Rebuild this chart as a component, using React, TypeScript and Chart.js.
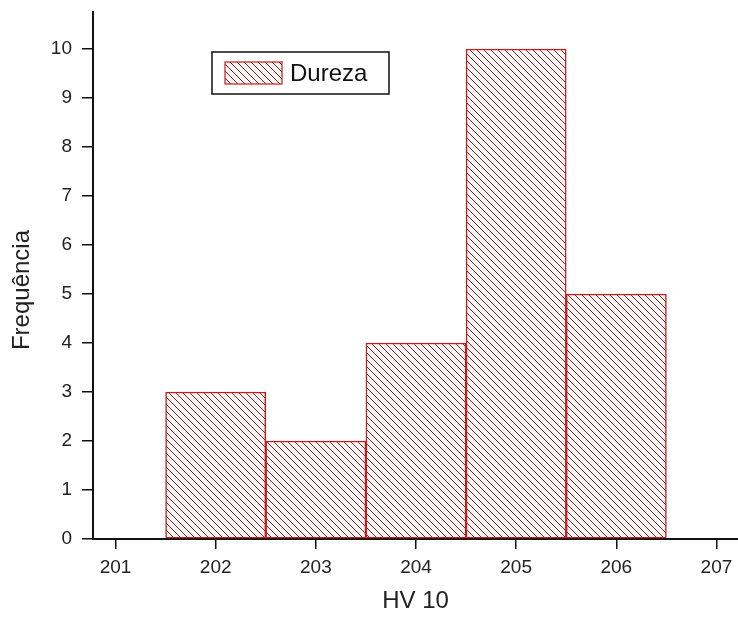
import React, { useEffect, useRef } from "react";
import { Chart, registerables } from "chart.js";

Chart.register(...registerables);

const categories = [202, 203, 204, 205, 206];
const frequencies = [3, 2, 4, 10, 5];
const xTicks = [201, 202, 203, 204, 205, 206, 207];
const yTicks = [0, 1, 2, 3, 4, 5, 6, 7, 8, 9, 10];
const seriesLabel = "Dureza";
const xTitle = "HV 10";
const yTitle = "Frequência";

const FONT = '"Liberation Sans", Arial, sans-serif';

function makeHatch(): CanvasPattern | string {
  const s = 7;
  const c = document.createElement("canvas");
  c.width = s;
  c.height = s;
  const g = c.getContext("2d");
  if (!g) return "#fff";
  g.fillStyle = "#fff6f6";
  g.fillRect(0, 0, s, s);
  g.strokeStyle = "#6e2a2a";
  g.lineWidth = 1;
  g.beginPath();
  for (let k = -1; k <= 1; k++) {
    g.moveTo(k * s, 0);
    g.lineTo(k * s + s, s);
  }
  g.stroke();
  return g.createPattern(c, "repeat") || "#fff";
}

export default function App() {
  const ref = useRef<HTMLCanvasElement | null>(null);

  useEffect(() => {
    if (!ref.current) return;
    const hatch = makeHatch();
    const edge = "#cc1a1a";

    const overlay = {
      id: "overlay",
      afterDraw(chart: any) {
        const { ctx, chartArea } = chart;
        ctx.save();
        ctx.fillStyle = "#222";
        ctx.font = `24px ${FONT}`;
        ctx.textAlign = "center";
        ctx.textBaseline = "middle";
        ctx.translate(22, 290);
        ctx.rotate(-Math.PI / 2);
        ctx.fillText(yTitle, 0, 0);
        ctx.restore();

        ctx.save();
        const bx = chartArea.left + 119;
        const by = chartArea.top + 40;
        ctx.lineWidth = 1.5;
        ctx.strokeStyle = "#111";
        ctx.strokeRect(bx, by, 177, 42);
        ctx.fillStyle = hatch as any;
        ctx.fillRect(bx + 13, by + 10, 57, 22);
        ctx.strokeStyle = edge;
        ctx.lineWidth = 1.2;
        ctx.strokeRect(bx + 13, by + 10, 57, 22);
        ctx.fillStyle = "#111";
        ctx.font = `24px ${FONT}`;
        ctx.textAlign = "left";
        ctx.textBaseline = "middle";
        ctx.fillText(seriesLabel, bx + 78, by + 22);
        ctx.restore();
      },
    };

    const chart = new Chart(ref.current, {
      type: "bar",
      data: {
        datasets: [
          {
            label: seriesLabel,
            data: categories.map((c, i) => ({ x: c, y: frequencies[i] })),
            backgroundColor: hatch as any,
            borderColor: edge,
            borderWidth: 1.5,
            borderSkipped: false,
            barPercentage: 1,
            categoryPercentage: 1,
          },
        ],
      },
      options: {
        animation: false,
        responsive: true,
        maintainAspectRatio: false,
        layout: { padding: { top: 12, left: 0, right: 0, bottom: 0 } },
        plugins: {
          legend: { display: false },
          tooltip: { enabled: false },
        },
        scales: {
          x: {
            type: "linear",
            offset: false,
            min: 200.775,
            max: 207.215,
            afterBuildTicks: (s: any) => {
              s.ticks = xTicks.map((v) => ({ value: v }));
            },
            afterFit: (s: any) => {
              s.height = 80;
              s.paddingLeft = 0;
              s.paddingRight = 0;
            },
            grid: {
              offset: false,
              drawOnChartArea: false,
              drawTicks: true,
              tickLength: 10,
              color: "#111",
              lineWidth: 1.5,
            },
            border: { display: true, color: "#111", width: 2 },
            ticks: {
              color: "#222",
              font: { family: FONT, size: 19 },
              padding: 7,
              maxRotation: 0,
              autoSkip: false,
            },
            title: {
              display: true,
              text: xTitle,
              color: "#222",
              font: { family: FONT, size: 24 },
              padding: { top: 0, bottom: 3 },
            },
          },
          y: {
            type: "linear",
            min: 0,
            max: 10.755,
            afterBuildTicks: (s: any) => {
              s.ticks = yTicks.map((v) => ({ value: v }));
            },
            afterFit: (s: any) => {
              s.width = 93;
              s.paddingTop = 0;
              s.paddingBottom = 0;
            },
            grid: {
              drawOnChartArea: false,
              drawTicks: true,
              tickLength: 11,
              color: "#111",
              lineWidth: 1.5,
            },
            border: { display: true, color: "#111", width: 2 },
            ticks: {
              color: "#222",
              font: { family: FONT, size: 19 },
              padding: 10,
              autoSkip: false,
            },
          },
        },
      },
      plugins: [overlay],
    });

    return () => chart.destroy();
  }, []);

  return (
    <div style={{ position: "absolute", left: 0, top: 0, width: 738, height: 619 }}>
      <canvas ref={ref} />
    </div>
  );
}
